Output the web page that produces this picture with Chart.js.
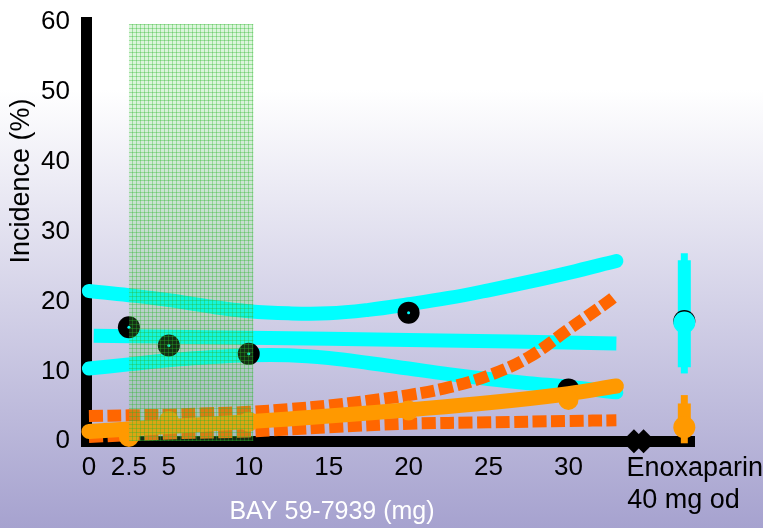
<!DOCTYPE html>
<html>
<head>
<meta charset="utf-8">
<title>BAY 59-7939 incidence</title>
<script src="https://cdn.jsdelivr.net/npm/chart.js@4.4.1/dist/chart.umd.min.js"></script>
<style>
  html, body { margin: 0; padding: 0; }
  body {
    width: 763px; height: 528px; overflow: hidden;
    background: linear-gradient(to bottom, #ffffff 0%, #ffffff 17%, #a6a2cf 100%);
  }
  canvas { display: block; }
</style>
</head>
<body>
<canvas id="chart" width="763" height="528"></canvas>
<script>
// Values
const xTicks = [0, 2.5, 5, 10, 15, 20, 25, 30, 37.9];
// trailing spaces keep the second line flush left under "Enoxaparin"
const xTickLabels = ['0', '2.5', '5', '10', '15', '20', '25', '30', ['Enoxaparin', '40 mg od   ']];
const yTicks = [0, 10, 20, 30, 40, 50, 60];
const xTitle = 'BAY 59-7939 (mg)';
const yTitle = 'Incidence (%)';

// cyan curves
const cyanUpperDose = [0, 2.5, 5, 7.5, 10, 12.5, 15, 17.5, 20, 22.5, 25, 27.5, 30, 33];
const cyanUpper = [21.5, 20.9, 20.2, 19.3, 18.6, 18.3, 18.3, 18.8, 19.6, 20.5, 21.6, 22.8, 24.1, 25.8];
const cyanMidDose = [0.3, 10, 20, 33];
const cyanMid = [15.1, 14.8, 14.5, 14.0];
const cyanLowerDose = [0, 2.5, 5, 7.5, 10, 12.5, 15, 17.5, 20, 22.5, 25, 27.5, 30, 33];
const cyanLower = [10.4, 11.0, 11.6, 12.0, 12.3, 12.3, 11.9, 11.2, 10.4, 9.6, 8.9, 8.3, 7.8, 7.0];

// orange curves
const orangeDose = [0, 5, 10, 15, 20, 25, 30, 33];
const orangeMid = [1.4, 2.1, 2.8, 3.6, 4.5, 5.5, 6.8, 7.9];
const orangeUpperDose = [0, 2.5, 5, 7.5, 10, 12.5, 15, 17.5, 20, 22.5, 25, 27.5, 30, 32.5, 33];
const orangeUpper = [3.6, 3.7, 3.8, 4.0, 4.2, 4.6, 5.1, 5.8, 6.6, 7.7, 9.4, 12.0, 16.0, 20.0, 20.9];
const orangeLowerDose = [0, 5, 10, 15, 20, 25, 30, 33];
const orangeLower = [0.6, 1.1, 1.4, 2.0, 2.5, 2.7, 2.9, 3.0];

// observed points
const obsDose = [2.5, 5, 10, 20, 30];
const blackObs = [16.3, 13.7, 12.5, 18.4, 7.4];
const orangeObs = [0.6, 2.9, 2.8, 4.4, 5.9];

// enoxaparin comparator
const enoxDose = [37.25];
const enoxCyan = [17.0];
const enoxCyanRange = [9.7, 26.9];
const enoxCyanBox = [10.6, 25.9];
const enoxOrange = [2.0];
const enoxOrangeRange = [-0.3, 6.6];
const enoxOrangeBox = [3.0, 5.4];

const diamondDose = [34.1, 34.7];
const diamondVal = [0, 0];

// shaded dose band
const bandDose = [2.5, 10.3];
const bandTop = [59.7, 59.7];

const pts = (xs, ys) => xs.map((x, i) => ({ x: x, y: ys[i] }));
const vbar = (x, range) => range.map(y => ({ x: x, y: y }));

function hatch() {
  const c = document.createElement('canvas');
  c.width = 4; c.height = 4;
  const g = c.getContext('2d');
  g.fillStyle = 'rgba(90,210,90,0.22)';
  g.fillRect(0, 0, 4, 4);
  g.fillStyle = 'rgba(40,180,40,0.35)';
  g.fillRect(0, 0, 4, 1);
  g.fillRect(0, 0, 1, 4);
  return g.createPattern(c, 'repeat');
}

const FONT = '"Liberation Sans", Arial, sans-serif';
Chart.defaults.font.family = FONT;
Chart.defaults.color = '#000';

const CYAN = '#00ffff';
const ORANGE = '#ff9900';
const DARK_ORANGE = '#ff6600';

function curve(data, color, width, extra) {
  return Object.assign({
    type: 'line', data: data, borderColor: color, borderWidth: width,
    pointRadius: 0, fill: false, tension: 0.4,
    borderCapStyle: 'round', clip: false
  }, extra || {});
}

function dots(data, color, radius, extra) {
  return Object.assign({
    type: 'line', data: data, showLine: false, pointRadius: radius,
    pointBackgroundColor: color, pointBorderWidth: 0, clip: false
  }, extra || {});
}

// titles sit off-centre in the original, so draw them by hand
const axisTitles = {
  id: 'axisTitles',
  afterDraw(chart) {
    const ctx = chart.ctx;
    ctx.save();
    ctx.textAlign = 'center';
    ctx.textBaseline = 'middle';
    ctx.fillStyle = '#ffffff';
    ctx.font = '25px ' + FONT;
    ctx.fillText(xTitle, 332, 512);
    ctx.translate(22, 181);
    ctx.rotate(-Math.PI / 2);
    ctx.fillStyle = '#000';
    ctx.font = '27px ' + FONT;
    ctx.fillText(yTitle, 0, 0);
    ctx.restore();
  }
};

new Chart(document.getElementById('chart'), {
  type: 'line',
  data: {
    datasets: [
      Object.assign(curve(pts(bandDose, bandTop), 'rgba(0,0,0,0)', 0), {
        fill: 'origin', backgroundColor: hatch(), tension: 0, clip: 0, order: 0
      }),
      dots(pts(enoxDose, enoxOrange), ORANGE, 11, { order: 1 }),
      curve(vbar(enoxDose[0], enoxOrangeBox), ORANGE, 13, { borderCapStyle: 'butt', order: 2 }),
      curve(vbar(enoxDose[0], enoxOrangeRange), ORANGE, 7, { borderCapStyle: 'butt', order: 3 }),
      dots(pts(enoxDose, enoxCyan), CYAN, 11, { order: 4 }),
      dots(pts(enoxDose, enoxCyan.map(v => v + 0.2)), '#000', 11, { order: 5 }),
      curve(vbar(enoxDose[0], enoxCyanBox), CYAN, 13, { borderCapStyle: 'butt', order: 6 }),
      curve(vbar(enoxDose[0], enoxCyanRange), CYAN, 7, { borderCapStyle: 'butt', order: 7 }),
      dots(pts(diamondDose, diamondVal), '#000', 12, { pointStyle: 'rectRot', order: 8 }),
      dots(pts(obsDose, orangeObs), ORANGE, 10, { order: 9 }),
      curve(pts(orangeDose, orangeMid), ORANGE, 15, { order: 10 }),
      curve(pts(orangeUpperDose, orangeUpper), DARK_ORANGE, 12, { borderDash: [14, 4.5], borderCapStyle: 'butt', order: 11 }),
      curve(pts(orangeLowerDose, orangeLower), DARK_ORANGE, 12, { borderDash: [14, 4.5], borderCapStyle: 'butt', order: 12 }),
      dots(pts(obsDose, blackObs), CYAN, 1.5, { order: 13 }),
      dots(pts(obsDose, blackObs), '#000', 11, { order: 14 }),
      curve(pts(cyanUpperDose, cyanUpper), CYAN, 14, { order: 15 }),
      curve(pts(cyanMidDose, cyanMid), CYAN, 14, { borderCapStyle: 'butt', order: 16 }),
      curve(pts(cyanLowerDose, cyanLower), CYAN, 14, { order: 17 })
    ]
  },
  options: {
    responsive: false,
    animation: false,
    events: [],
    layout: { padding: { top: 22, left: 41, right: 0, bottom: 11 } },
    plugins: { legend: { display: false }, tooltip: { enabled: false } },
    scales: {
      x: {
        type: 'linear',
        min: -0.125,
        max: xTicks[xTicks.length - 1],
        afterBuildTicks: function(scale) {
          scale.ticks = xTicks.map(v => ({ value: v }));
        },
        grid: { display: true, drawOnChartArea: false, color: 'rgba(0,0,0,0)', drawTicks: true, tickLength: 11 },
        border: { display: true, color: '#000', width: 11 },
        ticks: {
          padding: 0,
          autoSkip: false,
          maxRotation: 0,
          color: '#000',
          font: function(ctx) {
            return ctx.index === xTicks.length - 1 ? { size: 27, lineHeight: 1.2 } : { size: 26, lineHeight: 1.2 };
          },
          callback: function(value, index) { return xTickLabels[index]; }
        }
      },
      y: {
        type: 'linear',
        min: 0,
        max: 60,
        afterBuildTicks: function(scale) {
          scale.ticks = yTicks.map(v => ({ value: v }));
        },
        grid: { display: true, drawOnChartArea: false, color: 'rgba(0,0,0,0)', drawTicks: true, tickLength: 17 },
        border: { display: true, color: '#000', width: 11 },
        ticks: { padding: 0, color: '#000', font: { size: 26, lineHeight: 1.2 } }
      }
    }
  },
  plugins: [axisTitles]
});
</script>
</body>
</html>
